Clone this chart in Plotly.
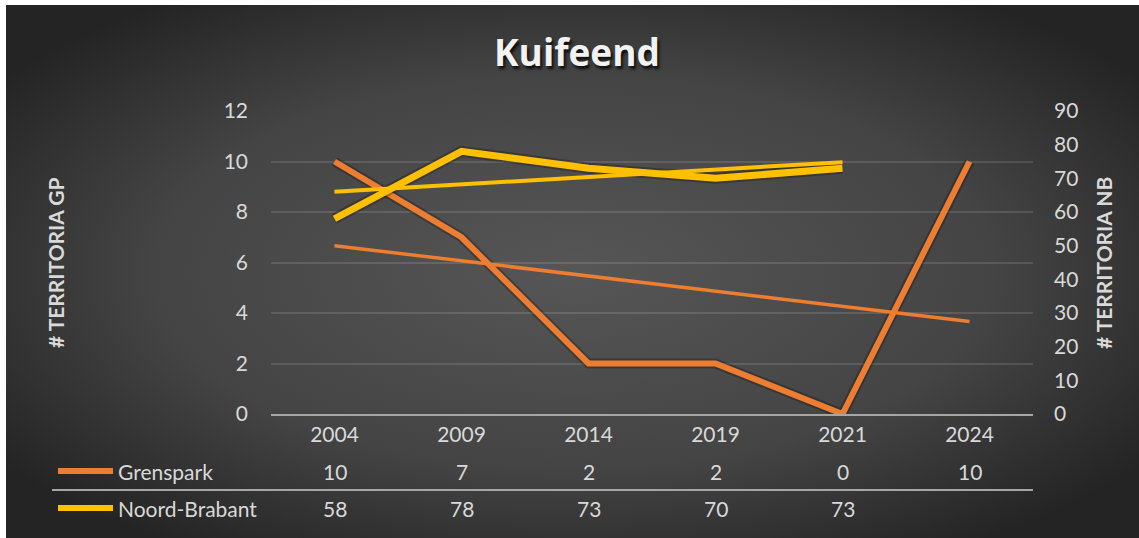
import base64
import numpy as np
import plotly.graph_objects as go

# ---- data ----
years = ["2004", "2009", "2014", "2019", "2021", "2024"]
grenspark = [10, 7, 2, 2, 0, 10]
noord_brabant = [58, 78, 73, 70, 73, None]
series_names = ["Grenspark", "Noord-Brabant"]
title_text = "Kuifeend"
left_title = "# TERRITORIA GP"
right_title = "# TERRITORIA NB"

# ---- layout constants (pixels) ----
W, H = 1139, 538
L, R, T, B = 271, 106, 111, 124
PW, PH = W - L - R, H - T - B

ORANGE = "#ED7D31"
YELLOW = "#FFC000"
TXT = "#D9D9D9"
FONT = "Lato"


def px_x(x):
    return (x - L) / PW


def px_y(y):
    return (H - B - y) / PH


def trend(vals):
    pts = [(i + 1, v) for i, v in enumerate(vals) if v is not None]
    xs = np.array([p[0] for p in pts], float)
    ys = np.array([p[1] for p in pts], float)
    m, c = np.polyfit(xs, ys, 1)
    return [float(m * (i + 1) + c) for i in range(len(pts))]


gp_trend = trend(grenspark)
nb_vals = [v for v in noord_brabant if v is not None]
nb_trend = trend(nb_vals)
nb_years = years[:len(nb_vals)]

fig = go.Figure()

fig.add_trace(go.Scatter(x=years, y=grenspark, mode="lines", yaxis="y",
                         line=dict(color="rgba(0,0,0,0.25)", width=10), hoverinfo="skip", showlegend=False))
fig.add_trace(go.Scatter(x=years, y=gp_trend, mode="lines", yaxis="y",
                         line=dict(color=ORANGE, width=3.5), showlegend=False))
fig.add_trace(go.Scatter(x=years, y=grenspark, mode="lines", yaxis="y", name=series_names[0],
                         line=dict(color=ORANGE, width=6), showlegend=False))
fig.add_trace(go.Scatter(x=nb_years, y=nb_vals, mode="lines", yaxis="y2",
                         line=dict(color="rgba(0,0,0,0.25)", width=11), hoverinfo="skip", showlegend=False))
fig.add_trace(go.Scatter(x=nb_years, y=nb_trend, mode="lines", yaxis="y2",
                         line=dict(color=YELLOW, width=4), showlegend=False))
fig.add_trace(go.Scatter(x=nb_years, y=nb_vals, mode="lines", yaxis="y2", name=series_names[1],
                         line=dict(color=YELLOW, width=7), showlegend=False))

# background gradient
svg = f'''<svg xmlns="http://www.w3.org/2000/svg" width="{W-6}" height="{H-5}" preserveAspectRatio="none">
<defs><radialGradient id="g" cx="50%" cy="50%" r="62%">
<stop offset="0" stop-color="#565656"/><stop offset="0.6" stop-color="#444444"/><stop offset="1" stop-color="#242424"/>
</radialGradient></defs><rect width="100%" height="100%" fill="url(#g)"/></svg>'''
src = "data:image/svg+xml;base64," + base64.b64encode(svg.encode()).decode()

annotations = [
    dict(text=f"<b>{title_text}</b>", xref="paper", yref="paper", x=px_x(577), y=px_y(52),
         xanchor="center", yanchor="middle", showarrow=False,
         font=dict(family="Open Sans", size=37, color="#F2F2F2", shadow="2px 3px 3px rgba(0,0,0,0.8)")),
    dict(text=f"<b>{left_title}</b>", xref="paper", yref="paper", x=px_x(55), y=px_y(263),
         textangle=-90, showarrow=False, xanchor="center", yanchor="middle",
         font=dict(family=FONT, size=21, color=TXT)),
    dict(text=f"<b>{right_title}</b>", xref="paper", yref="paper", x=px_x(1103), y=px_y(263),
         textangle=-90, showarrow=False, xanchor="center", yanchor="middle",
         font=dict(family=FONT, size=21, color=TXT)),
]
row_y = [471, 508]
rows = [grenspark, noord_brabant]
for name, vals, ry in zip(series_names, rows, row_y):
    annotations.append(dict(text=name, xref="paper", yref="paper", x=px_x(116), y=px_y(ry),
                            xanchor="left", yanchor="middle", showarrow=False,
                            font=dict(family=FONT, size=21, color=TXT)))
    for i, v in enumerate(vals):
        if v is None:
            continue
        annotations.append(dict(text=str(v), xref="x", yref="paper", x=i, y=px_y(ry),
                                xanchor="center", yanchor="middle", showarrow=False,
                                font=dict(family=FONT, size=21, color=TXT)))

shapes = [
    dict(type="line", xref="paper", yref="paper", x0=px_x(52), x1=1, y0=px_y(490), y1=px_y(490),
         line=dict(color="#A6A6A6", width=2)),
    dict(type="line", xref="paper", yref="paper", x0=px_x(58), x1=px_x(113), y0=px_y(row_y[0]), y1=px_y(row_y[0]),
         line=dict(color=ORANGE, width=6)),
    dict(type="line", xref="paper", yref="paper", x0=px_x(58), x1=px_x(113), y0=px_y(row_y[1]), y1=px_y(row_y[1]),
         line=dict(color=YELLOW, width=6)),
]

fig.update_layout(
    width=W, height=H,
    margin=dict(l=L, r=R, t=T, b=B, autoexpand=False),
    paper_bgcolor="white", plot_bgcolor="rgba(0,0,0,0)",
    showlegend=False,
    images=[dict(source=src, xref="paper", yref="paper", x=px_x(6), y=px_y(5),
                 sizex=(W - 6) / PW, sizey=(H - 5) / PH, sizing="stretch",
                 xanchor="left", yanchor="top", layer="below")],
    xaxis=dict(type="category", categoryorder="array", categoryarray=years,
               range=[-0.5, len(years) - 0.5], showgrid=False, zeroline=False,
               showline=True, linecolor="#A6A6A6", linewidth=2, ticks="",
               ticklabelstandoff=1,
               tickfont=dict(family=FONT, size=21, color=TXT)),
    yaxis=dict(range=[0, 12], dtick=2, showgrid=True, gridcolor="rgba(255,255,255,0.12)", gridwidth=1.5,
               zeroline=False, showline=False, ticks="", ticklabelstandoff=22,
               tickfont=dict(family=FONT, size=21, color=TXT)),
    yaxis2=dict(range=[0, 90], dtick=10, overlaying="y", side="right", showgrid=False,
                zeroline=False, showline=False, ticks="", ticklabelstandoff=20,
                tickfont=dict(family=FONT, size=21, color=TXT)),
    annotations=annotations,
    shapes=shapes,
)

fig.write_html("out.html", config={"displayModeBar": False},
               post_script="document.body.style.margin='0';document.body.style.padding='0';")
